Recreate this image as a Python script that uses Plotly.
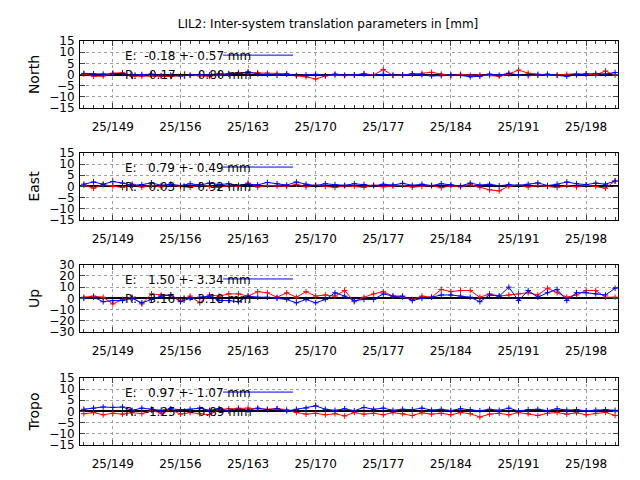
import plotly.graph_objects as go

days = list(range(146, 202))
tick_vals = [149, 156, 163, 170, 177, 184, 191, 198]
tick_text = ["25/%d" % d for d in tick_vals]

north_e = [0.5, 0.3, 0.2, 0.4, 0.5, -0.3, 0.0, 0.2, -0.5, -0.3, -0.6, -0.4, 0.0, -0.2, 0.3, 0.2, 0.4, 1.2, 0.3, 0.0, -0.3, 0.2, -0.4, -0.2, 0.1, -0.5, 0.2, -0.3, -0.1, 0.2, -0.4, 0.1, -0.3, -0.2, 0.3, -0.1, -0.6, -0.5, -0.2, -0.4, -1.0, -0.8, 0.2, -0.3, 0.6, -0.2, -0.5, -0.3, 0.2, -0.4, -0.8, -0.2, 0.3, 0.5, 0.2, 0.9]
north_r = [0.3, -0.8, -0.7, 0.6, 0.8, -0.9, -0.7, -0.6, -0.8, -0.9, -0.5, -0.3, -0.6, -0.8, -0.2, 0.4, 0.9, 0.8, 0.8, 0.6, 0.5, 0.3, -0.6, -1.0, -2.0, -0.6, -0.2, -0.5, -0.3, 0.4, -0.2, 2.2, -0.4, -0.3, 0.2, 0.5, 1.0, 0.2, -0.5, 0.1, -0.3, -0.2, -0.4, -0.8, 0.2, 2.0, 0.6, 0.1, -0.2, -0.3, 0.1, 0.4, 0.2, -0.2, 1.6, -0.3]
east_e = [1.0, 2.0, 1.0, 2.2, 1.5, 0.5, 0.8, 1.6, 0.5, 1.0, 0.4, 1.2, 0.6, 1.5, 0.8, 1.2, 0.5, 1.0, 0.7, 1.8, 1.2, 0.6, 2.0, 1.0, 0.4, 1.2, 0.8, 0.5, 1.2, 0.9, 0.3, 1.0, 0.6, 1.4, 0.5, 1.0, 0.4, 1.2, 0.8, 0.2, 1.5, 0.6, 1.0, 0.3, 0.8, 0.5, 1.0, 1.6, 0.4, 1.0, 2.0, 1.2, 0.8, 1.5, 1.0, 2.4]
east_r = [0.5, -0.8, 0.8, 0.2, -0.5, 1.0, -0.3, 0.5, -0.2, 0.8, 0.0, -0.4, 0.6, 0.2, -0.5, 0.4, 0.0, 1.5, -0.3, 0.5, 0.2, 0.0, 1.0, -0.2, 0.6, 0.0, -0.5, 0.3, 0.1, -0.4, 0.6, -0.2, 0.2, 0.5, -0.3, 0.0, 0.4, -0.6, 0.3, -0.2, 0.8, -0.4, -1.5, -2.0, 0.2, 0.6, -0.3, 0.5, 0.0, -0.5, 0.4, -0.2, 0.6, 0.0, -0.8, 2.5]
up_e = [0.0, 1.0, -3.0, -2.0, -2.0, 0.0, -4.0, -1.0, 2.0, 3.0, -3.0, 0.0, 1.0, 2.0, -2.0, -2.0, -3.0, 2.0, 1.0, 1.0, 0.0, -1.0, -4.0, -1.0, -4.0, -1.0, 5.0, 2.0, -2.0, -1.0, -1.0, 4.0, 2.0, 2.0, -2.0, 0.0, 1.0, 3.0, 3.0, 2.0, 1.0, -3.0, 3.0, 2.0, 10.0, -2.0, 7.0, 1.0, 5.0, 8.0, -2.0, 5.0, 5.0, 4.0, 3.0, 9.0]
up_r = [1.0, 2.0, 1.0, -5.0, -1.0, 1.0, -5.0, 4.0, 3.0, 3.0, -2.0, 2.0, -4.0, 3.0, 2.0, 4.0, 4.0, 2.0, 6.0, 5.0, 1.0, 5.0, 1.0, 6.0, 2.0, 3.0, 2.0, 7.0, -3.0, 1.0, 4.0, 6.0, 2.0, 1.0, -1.0, 2.0, 1.0, 8.0, 6.0, 7.0, 7.0, 1.0, 4.0, 2.0, 3.0, 4.0, 5.0, 3.0, 9.0, 5.0, 1.0, 3.0, 7.0, 7.0, 1.0, 1.0]
tropo_e = [1.0, 1.5, 2.0, 1.8, 2.0, 0.5, 1.5, 1.0, 0.5, 1.2, 0.8, 1.0, 1.5, 0.5, 1.2, 0.3, 1.0, 0.5, 1.5, 0.8, 1.2, 0.2, 1.0, 1.5, 2.5, 1.0, 0.5, 1.2, 0.3, 1.8, 1.0, 1.5, 0.5, 1.0, 0.8, 1.5, 0.6, 1.0, 0.4, 1.2, 0.8, 0.3, 1.0, 0.5, 1.5, 0.2, 0.8, 1.0, 0.4, 1.2, 0.6, 0.8, 0.3, 0.6, 0.8, 0.5]
tropo_r = [-1.0, -0.5, -1.5, -0.8, -1.2, -0.5, -1.0, 0.5, -0.8, 0.8, -1.2, -0.5, -1.0, -1.5, 1.0, 1.2, 1.5, 1.5, 1.2, 1.0, 1.3, 0.8, -0.5, -1.2, -0.8, -1.5, -1.0, -2.0, -0.5, -1.2, -0.8, -1.5, -0.5, -1.0, -1.8, -0.6, -1.2, -0.8, -1.5, -0.5, -1.0, -2.5, -1.2, -0.8, -1.5, -0.5, -1.0, -1.8, -0.8, -0.5, -1.2, -0.6, -1.5, -0.8, -0.4, -1.8]

panels = [
    ("North", north_e, north_r, [-15, 15], [-15, -10, -5, 0, 5, 10, 15], "E:  -0.18 +- 0.57 mm", "R:  -0.17 +- 0.80 mm"),
    ("East", east_e, east_r, [-15, 15], [-15, -10, -5, 0, 5, 10, 15], "E:   0.79 +- 0.49 mm", "R:   0.03 +- 0.92 mm"),
    ("Up", up_e, up_r, [-30, 30], [-30, -20, -10, 0, 10, 20, 30], "E:   1.50 +- 3.34 mm", "R:   3.16 +- 3.18 mm"),
    ("Tropo", tropo_e, tropo_r, [-15, 15], [-15, -10, -5, 0, 5, 10, 15], "E:   0.97 +- 1.07 mm", "R:  -1.25 +- 0.89 mm"),
]
domains = [(0.834, 1.0), (0.557, 0.723), (0.280, 0.446), (0.0, 0.166)]

fig = go.Figure()
font = dict(family="DejaVu Sans", size=12, color="black")
for i, (name, e, r, yr, yt, le, lr) in enumerate(panels):
    n = "" if i == 0 else str(i + 1)
    xa, ya = "x" + n, "y" + n
    fig.add_trace(go.Scatter(x=days, y=r, mode="lines+markers", line=dict(color="red", width=1),
                             marker=dict(symbol="cross-thin", size=4, line=dict(color="red", width=1)),
                             xaxis=xa, yaxis=ya, showlegend=False))
    fig.add_trace(go.Scatter(x=days, y=e, mode="lines+markers", line=dict(color="blue", width=1),
                             marker=dict(symbol="cross-thin", size=4, line=dict(color="blue", width=1)),
                             xaxis=xa, yaxis=ya, showlegend=False))
    fig.layout["xaxis" + n] = dict(domain=[0, 1], range=[145.6, 201.3], anchor=ya, tickvals=tick_vals,
                                   ticktext=tick_text, showgrid=True, gridcolor="#a0a0a0", griddash="dot",
                                   showline=True, linecolor="black", mirror="ticks", ticks="inside",
                                   ticklen=5, ticklabelstandoff=8, zeroline=False, automargin=False,
                                   minor=dict(ticks="inside", ticklen=3, dtick=1, tick0=146))
    fig.layout["yaxis" + n] = dict(domain=list(domains[i]), range=yr, tickvals=yt, anchor=xa,
                                   showgrid=True, gridcolor="#a0a0a0", griddash="dot", automargin=False,
                                   showline=True, linecolor="black", mirror="ticks", ticks="inside",
                                   ticklen=5, zeroline=True, zerolinecolor="black", zerolinewidth=1.5,
                                   ticklabelstandoff=2, title=dict(text=name, standoff=6))
    top = domains[i][1]
    fig.add_annotation(x=0.08, y=top - 0.015, xref="paper", yref="paper", text=le, showarrow=False,
                       xanchor="left", yanchor="top", font=font)
    fig.add_annotation(x=0.08, y=top - 0.062, xref="paper", yref="paper", text=lr, showarrow=False,
                       xanchor="left", yanchor="top", font=font)
    fig.add_shape(type="line", xref="paper", yref="paper", x0=0.266, x1=0.396,
                  y0=top - 0.035, y1=top - 0.035, line=dict(color="blue", width=1))

fig.update_layout(width=640, height=480, margin=dict(l=72, r=30, t=33, b=43),
                  plot_bgcolor="white", paper_bgcolor="white", font=font,
                  title=dict(text="LIL2: Inter-system translation parameters in [mm]", x=0.5, y=0.975,
                             xanchor="center", font=dict(size=12)))
fig.write_html("out.html")
